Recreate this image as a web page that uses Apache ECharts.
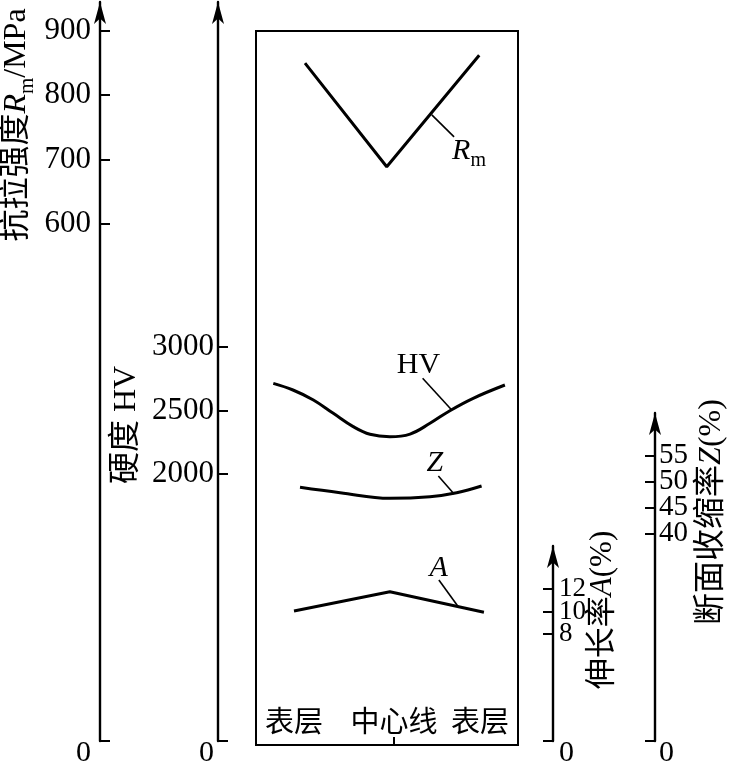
<!DOCTYPE html>
<html><head><meta charset="utf-8">
<script src="https://cdn.jsdelivr.net/npm/echarts@6/dist/echarts.min.js"></script>
<style>html,body{margin:0;padding:0;background:#fff}#c{width:730px;height:768px}</style>
</head><body><div id="c"></div>
<script>
// ---------------- data ----------------
const categories = ['表层', '中心线', '表层'];
const categoryPos = [14.5, 52.7, 85.5];
const centerPos = [52.7];

const rmPos = [18.7, 49.9, 85.2];
const rmValues = [850, 690, 862];
const hvPos = [6.6, 14.1, 21.9, 29.5, 37.1, 43.5, 51.1, 58.8, 66.4, 74.0, 82.9, 95.0];
const hvValues = [2731, 2679, 2601, 2496, 2392, 2332, 2313, 2334, 2418, 2517, 2614, 2718];
const zPos = [16.8, 32.1, 51.1, 66.4, 76.6, 86.1];
const zValues = [49.06, 48.03, 46.97, 47.27, 48.03, 49.3];
const aPos = [14.5, 51.1, 87.0];
const aValues = [10.16, 11.85, 10.05];

const rmTicks = [600, 700, 800, 900];
const hvTicks = [2000, 2500, 3000];
const aTicks = [8, 10, 12];
const zTicks = [40, 45, 50, 55];

// leader lines [from curve] -> [toward label], label anchor
const rmLeader = [[67.1, 770], [75.6, 736]];
const rmLabelAt = [81.3, 714];
const hvLeader = [[74.7, 2522], [63.6, 2771]];
const hvLabelAt = [62.0, 2875];
const zLeader = [[75.6, 47.79], [69.6, 51.2]];
const zLabelAt = [68.3, 53.6];
const aLeader = [[77.2, 10.54], [69.8, 12.88]];
const aLabelAt = [69.7, 13.9];

// ---------------- layout ----------------
const SERIF = '"Liberation Serif", "Noto Sans CJK SC", serif';
const BASE_Y = 745;
const FRAME = {left: 256, top: 31, width: 262, height: 714};
const AX = {
  rm: {x: 100, top: 2, side: 'left', anchors: [[600, 225], [900, 30.7]], margin: 9, ticks: rmTicks, fs: 31},
  hv: {x: 218, top: 2, side: 'left', anchors: [[2000, 476.7], [3000, 349]], margin: 4, ticks: hvTicks, fs: 31},
  a:  {x: 553, top: 546, side: 'right', anchors: [[8, 635.7], [12, 590]], margin: 6, ticks: aTicks, fs: 27},
  z:  {x: 655, top: 413, side: 'right', anchors: [[40, 535], [55, 456]], margin: 4, ticks: zTicks, fs: 29}
};
const keys = ['rm', 'hv', 'a', 'z'];
function valAt(an, y) { const [[v1, y1], [v2, y2]] = an; return v1 + (y - y1) * (v2 - v1) / (y2 - y1); }

const grids = [{left: FRAME.left, top: FRAME.top, width: FRAME.width, height: FRAME.height,
  show: true, borderColor: '#000', borderWidth: 2, backgroundColor: 'transparent'}];
const xAxes = [{
  gridIndex: 0, type: 'value', min: 0, max: 100, position: 'bottom',
  axisLine: {show: false, onZero: false},
  splitLine: {show: false},
  axisTick: {show: true, inside: true, length: 8, customValues: centerPos, lineStyle: {color: '#000', width: 2}},
  axisLabel: {show: true, inside: true, margin: 10, customValues: categoryPos,
    showMinLabel: true, showMaxLabel: true,
    formatter: function (v) { const i = categoryPos.indexOf(v); return i >= 0 ? categories[i] : ''; },
    fontSize: 29, fontFamily: '"Noto Sans CJK SC", sans-serif', color: '#000'}
}];
const yAxes = [];
// hidden scales inside the frame
keys.forEach(function (k) {
  const an = AX[k].anchors;
  yAxes.push({gridIndex: 0, type: 'value', show: false,
    min: valAt(an, FRAME.top + FRAME.height), max: valAt(an, FRAME.top)});
});
// visible axes (labels split over two overlaid axes so close labels are all kept)
const secondary = [];
keys.forEach(function (k, i) {
  const s = AX[k];
  const g = i + 1;
  grids.push({left: s.side === 'left' ? s.x : s.x - 1, top: s.top, width: 1, height: BASE_Y - s.top});
  xAxes.push({gridIndex: g, type: 'value', show: false, min: 0, max: 1});
  const mn = valAt(s.anchors, BASE_Y), mx = valAt(s.anchors, s.top);
  const evenTicks = s.ticks.filter(function (_, j) { return j % 2 === 0; });
  const oddTicks = s.ticks.filter(function (_, j) { return j % 2 === 1; });
  const labelBase = {
    show: true, margin: s.margin, showMinLabel: true, showMaxLabel: true, hideOverlap: false,
    formatter: function (v) { return Math.abs(v - mn) < 1e-6 ? '{z|0}' : String(v); },
    fontSize: s.fs, fontFamily: SERIF, color: '#000',
    rich: {z: {fontSize: 30, lineHeight: 30, fontFamily: SERIF, color: '#000', padding: [24, 0, 0, 0]}}
  };
  yAxes.push({
    gridIndex: g, type: 'value', position: s.side, min: mn, max: mx,
    axisLine: {show: true, onZero: false, symbol: ['none', 'arrow'], symbolSize: [9, 22],
      lineStyle: {color: '#000', width: 2.4}},
    axisTick: {show: true, inside: true, length: 10, customValues: [mn].concat(s.ticks),
      lineStyle: {color: '#000', width: 2}},
    axisLabel: Object.assign({}, labelBase, {customValues: [mn].concat(evenTicks)}),
    splitLine: {show: false}
  });
  secondary.push({
    gridIndex: g, type: 'value', position: s.side, min: mn, max: mx, offset: 0,
    axisLine: {show: false, onZero: false}, axisTick: {show: false}, splitLine: {show: false},
    axisLabel: Object.assign({}, labelBase, {customValues: oddTicks})
  });
});
secondary.forEach(function (a) { yAxes.push(a); });

function zip(p, v) { return p.map(function (x, i) { return [x, v[i]]; }); }
const leaderStyle = {color: '#000', width: 1.6, type: 'solid'};
const labelRich = {
  i: {fontSize: 30, fontFamily: SERIF, fontStyle: 'italic', color: '#000', lineHeight: 40},
  r: {fontSize: 30, fontFamily: SERIF, color: '#000', lineHeight: 40},
  s: {fontSize: 20, fontFamily: SERIF, color: '#000', lineHeight: 20, verticalAlign: 'bottom'}
};
function curve(name, yIdx, pos, vals, smooth, leader, labelAt, text) {
  return {
    name: name, type: 'line', xAxisIndex: 0, yAxisIndex: yIdx,
    data: zip(pos, vals), smooth: smooth, showSymbol: false, symbol: 'none',
    lineStyle: {color: '#000', width: 3}, silent: true,
    markLine: {silent: true, symbol: ['none', 'none'], label: {show: false}, lineStyle: leaderStyle,
      data: [[{coord: leader[0]}, {coord: leader[1]}]], animation: false},
    markPoint: {silent: true, symbol: 'circle', symbolSize: 1, itemStyle: {color: 'rgba(0,0,0,0)'},
      label: {show: true, position: 'inside', formatter: text, rich: labelRich},
      data: [{coord: labelAt}], animation: false}
  };
}

const series = [
  curve('Rm', 0, rmPos, rmValues, false, rmLeader, rmLabelAt, '{i|R}{s|m}'),
  curve('HV', 1, hvPos, hvValues, 0.4, hvLeader, hvLabelAt, '{r|HV}'),
  curve('A', 2, aPos, aValues, false, aLeader, aLabelAt, '{i|A}'),
  curve('Z', 3, zPos, zValues, 0.4, zLeader, zLabelAt, '{i|Z}')
];

function nameText(x, y, text, size) {
  return {type: 'text', x: x, y: y, rotation: Math.PI / 2, silent: true,
    style: {text: text, x: 0, y: 0, align: 'center', verticalAlign: 'middle',
      fontSize: size, fontFamily: SERIF, fill: '#000',
      rich: {
        i: {fontSize: size, fontFamily: SERIF, fontStyle: 'italic', fill: '#000', lineHeight: size + 10},
        s: {fontSize: Math.round(size * 0.66), fontFamily: SERIF, fill: '#000', lineHeight: 20, verticalAlign: 'bottom'}
      }}};
}

const option = {
  backgroundColor: '#fff',
  animation: false,
  grid: grids, xAxis: xAxes, yAxis: yAxes, series: series,
  graphic: [
    nameText(17, 125, '抗拉强度{i|R}{s|m}/MPa', 32),
    nameText(127, 425, '硬度 HV', 32),
    nameText(603, 610, '伸长率{i|A}(%)', 31),
    nameText(712, 512, '断面收缩率{i|Z}(%)', 32)
  ]
};
const chart = echarts.init(document.getElementById('c'), null, {renderer: 'canvas'});
chart.setOption(option);
</script></body></html>
